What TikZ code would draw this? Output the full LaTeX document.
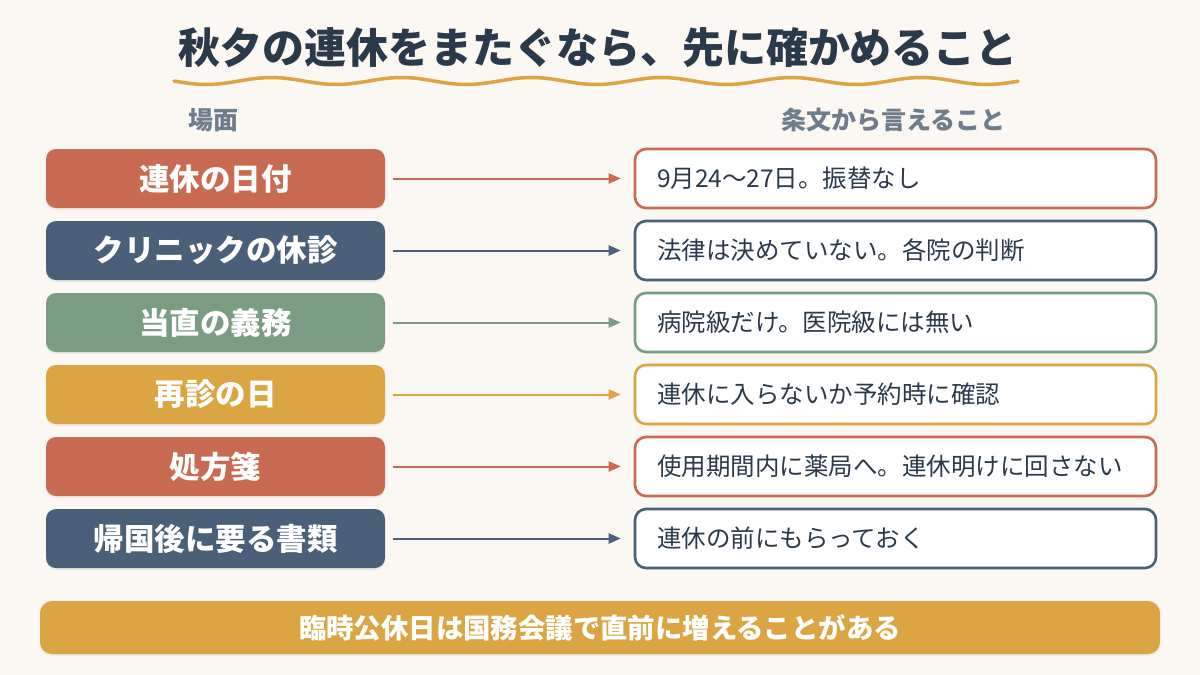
\documentclass[tikz,border=0pt]{standalone}
\usepackage{fontspec}
\setmainfont{Noto Sans CJK JP}
\usetikzlibrary{arrows.meta,shadows}
\definecolor{bg}{HTML}{FBF7F3}
\definecolor{cterra}{HTML}{C96A52}
\definecolor{cslate}{HTML}{4A6078}
\definecolor{csage}{HTML}{7A9C82}
\definecolor{cgold}{HTML}{DAA542}
\definecolor{ctitle}{HTML}{2B3A4A}
\definecolor{chead}{HTML}{6E7D8C}
\tikzset{
  leftbox/.style={rounded corners=10pt, minimum width=339pt, minimum height=59pt, inner sep=0pt,
    text=white, font=\fontsize{30.5}{34}\selectfont\bfseries,
    drop shadow={opacity=0.12, shadow xshift=0pt, shadow yshift=-2pt}},
  rightbox/.style={rounded corners=11pt, draw, line width=2.6pt, fill=white, minimum width=521pt,
    minimum height=59pt, inner xsep=22pt, inner ysep=0pt, text width=477pt, align=left,
    text=ctitle, font=\fontsize{24.5}{28}\selectfont},
  arr/.style={line width=2pt, -{Triangle[length=12pt,width=10pt]}, shorten <=8pt, shorten >=13pt},
  headtxt/.style={text=chead, font=\fontsize{25}{29}\selectfont\bfseries, inner sep=0pt},
}
\begin{document}
\begin{tikzpicture}[x=1pt,y=-1pt]
\fill[bg] (0,0) rectangle (1200,675);
\useasboundingbox (0,0) rectangle (1200,675);

\node[text=ctitle, font=\fontsize{42}{48}\selectfont\bfseries, inner sep=0pt] (title) at (598,48) {秋夕の連休をまたぐなら、先に確かめること};
\draw[cgold, line width=3.5pt, line cap=round] plot[domain=174:1018, samples=240, smooth] (\x, {81 + 3.5*sin(2.76923*(\x-174))});

\node[headtxt, anchor=west] (h1) at (188,120) {場面};
\node[headtxt, anchor=east] (h2) at (1006,120) {条文から言えること};

% rows
\node[leftbox, fill=cterra] (l1) at (215.5,178.5) {連休の日付};
\node[leftbox, fill=cslate] (l2) at (215.5,250.5) {クリニックの休診};
\node[leftbox, fill=csage]  (l3) at (215.5,322.5) {当直の義務};
\node[leftbox, fill=cgold]  (l4) at (215.5,394.5) {再診の日};
\node[leftbox, fill=cterra] (l5) at (215.5,466.5) {処方箋};
\node[leftbox, fill=cslate] (l6) at (215.5,538.5) {帰国後に要る書類};

\node[rightbox, draw=cterra] (r1) at (895.5,178.5) {9月24～27日。振替なし};
\node[rightbox, draw=cslate] (r2) at (895.5,250.5) {法律は決めていない。各院の判断};
\node[rightbox, draw=csage]  (r3) at (895.5,322.5) {病院級だけ。医院級には無い};
\node[rightbox, draw=cgold]  (r4) at (895.5,394.5) {連休に入らないか予約時に確認};
\node[rightbox, draw=cterra] (r5) at (895.5,466.5) {使用期間内に薬局へ。連休明けに回さない};
\node[rightbox, draw=cslate] (r6) at (895.5,538.5) {連休の前にもらっておく};

\draw[arr, cterra] (l1.east) -- (r1.west);
\draw[arr, cslate] (l2.east) -- (r2.west);
\draw[arr, csage]  (l3.east) -- (r3.west);
\draw[arr, cgold]  (l4.east) -- (r4.west);
\draw[arr, cterra] (l5.east) -- (r5.west);
\draw[arr, cslate] (l6.east) -- (r6.west);

\node[rounded corners=12pt, fill=cgold, minimum width=1120pt, minimum height=53pt, inner sep=0pt,
  text=white, font=\fontsize{27.4}{31}\selectfont\bfseries,
  drop shadow={opacity=0.12, shadow xshift=0pt, shadow yshift=-2pt}] (note) at (600,627.5) {臨時公休日は国務会議で直前に増えることがある};
\end{tikzpicture}
\end{document}
